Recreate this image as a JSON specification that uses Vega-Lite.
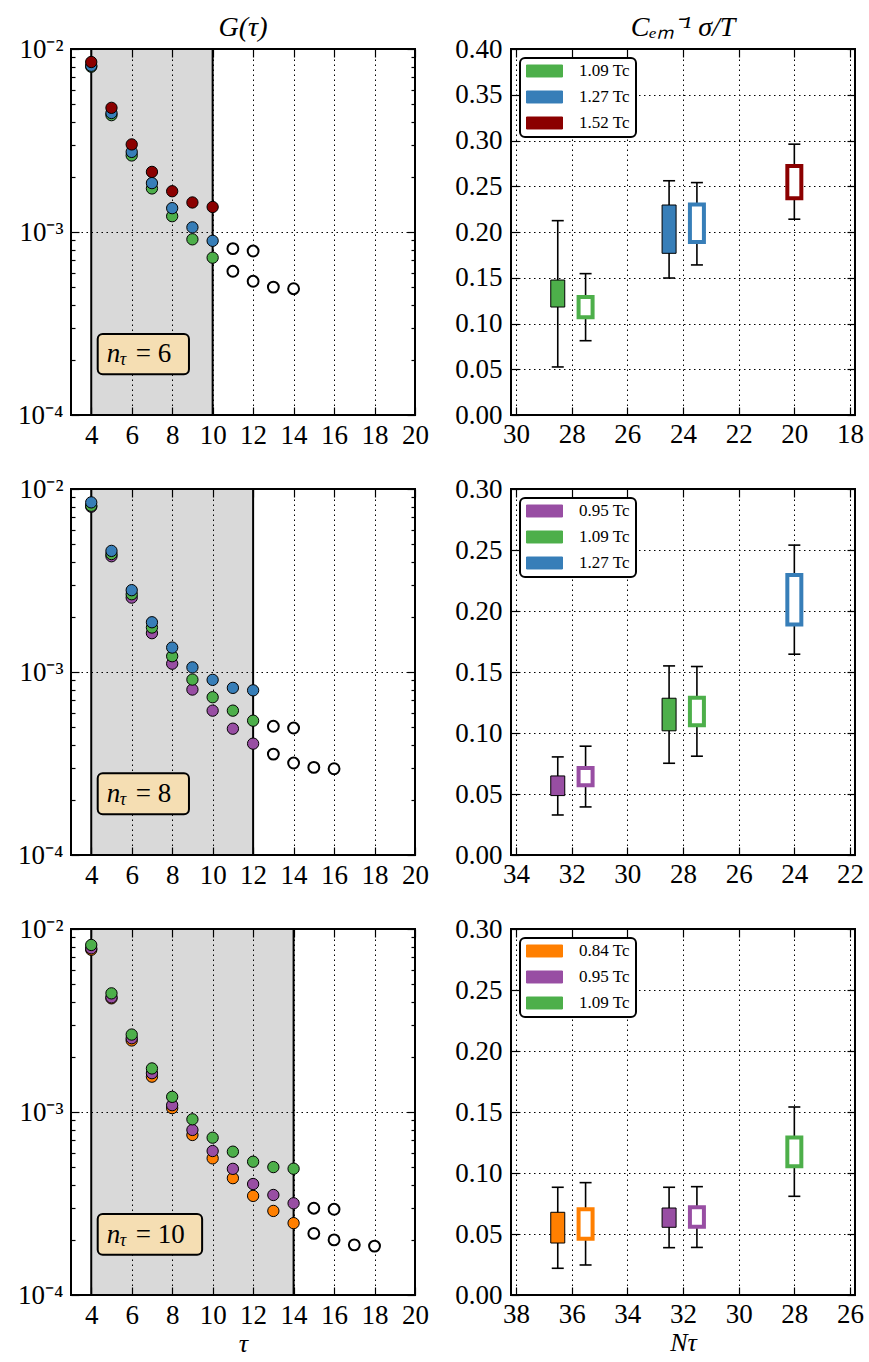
{
  "$schema": "https://vega.github.io/schema/vega-lite/v6.json",
  "background": "white",
  "padding": {"left": 16, "top": 13, "right": 0, "bottom": 0},
  "columns": 2,
  "spacing": {"row": 74, "column": 96},
  "bounds": "flush",
  "datasets": {
    "bands": [
      {"nt": 6, "lo": 4, "hi": 10},
      {"nt": 8, "lo": 4, "hi": 12},
      {"nt": 10, "lo": 4, "hi": 14}
    ],
    "G": [
      {"nt": 6, "T": "1.09 Tc", "tau": 4, "g": 0.0080, "open": false},
      {"nt": 6, "T": "1.09 Tc", "tau": 5, "g": 0.00435, "open": false},
      {"nt": 6, "T": "1.09 Tc", "tau": 6, "g": 0.00262, "open": false},
      {"nt": 6, "T": "1.09 Tc", "tau": 7, "g": 0.00173, "open": false},
      {"nt": 6, "T": "1.09 Tc", "tau": 8, "g": 0.00122, "open": false},
      {"nt": 6, "T": "1.09 Tc", "tau": 9, "g": 0.000912, "open": false},
      {"nt": 6, "T": "1.09 Tc", "tau": 10, "g": 0.000724, "open": false},
      {"nt": 6, "T": "1.27 Tc", "tau": 4, "g": 0.0081, "open": false},
      {"nt": 6, "T": "1.27 Tc", "tau": 5, "g": 0.00447, "open": false},
      {"nt": 6, "T": "1.27 Tc", "tau": 6, "g": 0.00274, "open": false},
      {"nt": 6, "T": "1.27 Tc", "tau": 7, "g": 0.00185, "open": false},
      {"nt": 6, "T": "1.27 Tc", "tau": 8, "g": 0.00135, "open": false},
      {"nt": 6, "T": "1.27 Tc", "tau": 9, "g": 0.00106, "open": false},
      {"nt": 6, "T": "1.27 Tc", "tau": 10, "g": 0.000895, "open": false},
      {"nt": 6, "T": "1.52 Tc", "tau": 4, "g": 0.00849, "open": false},
      {"nt": 6, "T": "1.52 Tc", "tau": 5, "g": 0.00477, "open": false},
      {"nt": 6, "T": "1.52 Tc", "tau": 6, "g": 0.00301, "open": false},
      {"nt": 6, "T": "1.52 Tc", "tau": 7, "g": 0.00213, "open": false},
      {"nt": 6, "T": "1.52 Tc", "tau": 8, "g": 0.00167, "open": false},
      {"nt": 6, "T": "1.52 Tc", "tau": 9, "g": 0.00145, "open": false},
      {"nt": 6, "T": "1.52 Tc", "tau": 10, "g": 0.00137, "open": false},
      {"nt": 6, "T": null, "tau": 11, "g": 0.000811, "open": true},
      {"nt": 6, "T": null, "tau": 11, "g": 0.00061, "open": true},
      {"nt": 6, "T": null, "tau": 12, "g": 0.000787, "open": true},
      {"nt": 6, "T": null, "tau": 12, "g": 0.000538, "open": true},
      {"nt": 6, "T": null, "tau": 13, "g": 0.0005, "open": true},
      {"nt": 6, "T": null, "tau": 14, "g": 0.00049, "open": true},

      {"nt": 8, "T": "0.95 Tc", "tau": 4, "g": 0.0080, "open": false},
      {"nt": 8, "T": "0.95 Tc", "tau": 5, "g": 0.00429, "open": false},
      {"nt": 8, "T": "0.95 Tc", "tau": 6, "g": 0.00255, "open": false},
      {"nt": 8, "T": "0.95 Tc", "tau": 7, "g": 0.00163, "open": false},
      {"nt": 8, "T": "0.95 Tc", "tau": 8, "g": 0.00111, "open": false},
      {"nt": 8, "T": "0.95 Tc", "tau": 9, "g": 0.000802, "open": false},
      {"nt": 8, "T": "0.95 Tc", "tau": 10, "g": 0.000615, "open": false},
      {"nt": 8, "T": "0.95 Tc", "tau": 11, "g": 0.00049, "open": false},
      {"nt": 8, "T": "0.95 Tc", "tau": 12, "g": 0.000406, "open": false},
      {"nt": 8, "T": "1.09 Tc", "tau": 4, "g": 0.0081, "open": false},
      {"nt": 8, "T": "1.09 Tc", "tau": 5, "g": 0.00441, "open": false},
      {"nt": 8, "T": "1.09 Tc", "tau": 6, "g": 0.00266, "open": false},
      {"nt": 8, "T": "1.09 Tc", "tau": 7, "g": 0.00175, "open": false},
      {"nt": 8, "T": "1.09 Tc", "tau": 8, "g": 0.00122, "open": false},
      {"nt": 8, "T": "1.09 Tc", "tau": 9, "g": 0.000909, "open": false},
      {"nt": 8, "T": "1.09 Tc", "tau": 10, "g": 0.000728, "open": false},
      {"nt": 8, "T": "1.09 Tc", "tau": 11, "g": 0.000615, "open": false},
      {"nt": 8, "T": "1.09 Tc", "tau": 12, "g": 0.000542, "open": false},
      {"nt": 8, "T": "1.27 Tc", "tau": 4, "g": 0.00845, "open": false},
      {"nt": 8, "T": "1.27 Tc", "tau": 5, "g": 0.00459, "open": false},
      {"nt": 8, "T": "1.27 Tc", "tau": 6, "g": 0.0028, "open": false},
      {"nt": 8, "T": "1.27 Tc", "tau": 7, "g": 0.00187, "open": false},
      {"nt": 8, "T": "1.27 Tc", "tau": 8, "g": 0.00136, "open": false},
      {"nt": 8, "T": "1.27 Tc", "tau": 9, "g": 0.00106, "open": false},
      {"nt": 8, "T": "1.27 Tc", "tau": 10, "g": 0.000906, "open": false},
      {"nt": 8, "T": "1.27 Tc", "tau": 11, "g": 0.000819, "open": false},
      {"nt": 8, "T": "1.27 Tc", "tau": 12, "g": 0.000794, "open": false},
      {"nt": 8, "T": null, "tau": 13, "g": 0.000505, "open": true},
      {"nt": 8, "T": null, "tau": 13, "g": 0.000356, "open": true},
      {"nt": 8, "T": null, "tau": 14, "g": 0.000494, "open": true},
      {"nt": 8, "T": null, "tau": 14, "g": 0.000318, "open": true},
      {"nt": 8, "T": null, "tau": 15, "g": 0.000301, "open": true},
      {"nt": 8, "T": null, "tau": 16, "g": 0.000296, "open": true},

      {"nt": 10, "T": "0.84 Tc", "tau": 4, "g": 0.0077, "open": false},
      {"nt": 10, "T": "0.84 Tc", "tau": 5, "g": 0.00418, "open": false},
      {"nt": 10, "T": "0.84 Tc", "tau": 6, "g": 0.00246, "open": false},
      {"nt": 10, "T": "0.84 Tc", "tau": 7, "g": 0.00156, "open": false},
      {"nt": 10, "T": "0.84 Tc", "tau": 8, "g": 0.00105, "open": false},
      {"nt": 10, "T": "0.84 Tc", "tau": 9, "g": 0.000749, "open": false},
      {"nt": 10, "T": "0.84 Tc", "tau": 10, "g": 0.000558, "open": false},
      {"nt": 10, "T": "0.84 Tc", "tau": 11, "g": 0.000435, "open": false},
      {"nt": 10, "T": "0.84 Tc", "tau": 12, "g": 0.000348, "open": false},
      {"nt": 10, "T": "0.84 Tc", "tau": 13, "g": 0.000288, "open": false},
      {"nt": 10, "T": "0.84 Tc", "tau": 14, "g": 0.000247, "open": false},
      {"nt": 10, "T": "0.95 Tc", "tau": 4, "g": 0.00784, "open": false},
      {"nt": 10, "T": "0.95 Tc", "tau": 5, "g": 0.00423, "open": false},
      {"nt": 10, "T": "0.95 Tc", "tau": 6, "g": 0.00253, "open": false},
      {"nt": 10, "T": "0.95 Tc", "tau": 7, "g": 0.00163, "open": false},
      {"nt": 10, "T": "0.95 Tc", "tau": 8, "g": 0.00109, "open": false},
      {"nt": 10, "T": "0.95 Tc", "tau": 9, "g": 0.000798, "open": false},
      {"nt": 10, "T": "0.95 Tc", "tau": 10, "g": 0.000612, "open": false},
      {"nt": 10, "T": "0.95 Tc", "tau": 11, "g": 0.000489, "open": false},
      {"nt": 10, "T": "0.95 Tc", "tau": 12, "g": 0.000404, "open": false},
      {"nt": 10, "T": "0.95 Tc", "tau": 13, "g": 0.000352, "open": false},
      {"nt": 10, "T": "0.95 Tc", "tau": 14, "g": 0.000317, "open": false},
      {"nt": 10, "T": "1.09 Tc", "tau": 4, "g": 0.00818, "open": false},
      {"nt": 10, "T": "1.09 Tc", "tau": 5, "g": 0.00445, "open": false},
      {"nt": 10, "T": "1.09 Tc", "tau": 6, "g": 0.00265, "open": false},
      {"nt": 10, "T": "1.09 Tc", "tau": 7, "g": 0.00173, "open": false},
      {"nt": 10, "T": "1.09 Tc", "tau": 8, "g": 0.00121, "open": false},
      {"nt": 10, "T": "1.09 Tc", "tau": 9, "g": 0.000912, "open": false},
      {"nt": 10, "T": "1.09 Tc", "tau": 10, "g": 0.000724, "open": false},
      {"nt": 10, "T": "1.09 Tc", "tau": 11, "g": 0.000607, "open": false},
      {"nt": 10, "T": "1.09 Tc", "tau": 12, "g": 0.000535, "open": false},
      {"nt": 10, "T": "1.09 Tc", "tau": 13, "g": 0.0005, "open": false},
      {"nt": 10, "T": "1.09 Tc", "tau": 14, "g": 0.00049, "open": false},
      {"nt": 10, "T": null, "tau": 15, "g": 0.000298, "open": true},
      {"nt": 10, "T": null, "tau": 15, "g": 0.000217, "open": true},
      {"nt": 10, "T": null, "tau": 16, "g": 0.000294, "open": true},
      {"nt": 10, "T": null, "tau": 16, "g": 0.0002, "open": true},
      {"nt": 10, "T": null, "tau": 17, "g": 0.000188, "open": true},
      {"nt": 10, "T": null, "tau": 18, "g": 0.000185, "open": true}
    ],
    "S": [
      {"nt": 6, "T": "1.09 Tc", "N": 28.5, "open": false, "blo": 0.118, "bhi": 0.1475, "wlo": 0.0525, "whi": 0.2124},
      {"nt": 6, "T": "1.09 Tc", "N": 27.5, "open": true, "blo": 0.1067, "bhi": 0.129, "wlo": 0.0812, "whi": 0.1545},
      {"nt": 6, "T": "1.27 Tc", "N": 24.5, "open": false, "blo": 0.1767, "bhi": 0.2295, "wlo": 0.1497, "whi": 0.256},
      {"nt": 6, "T": "1.27 Tc", "N": 23.5, "open": true, "blo": 0.189, "bhi": 0.23, "wlo": 0.164, "whi": 0.254},
      {"nt": 6, "T": "1.52 Tc", "N": 20, "open": true, "blo": 0.237, "bhi": 0.272, "wlo": 0.214, "whi": 0.296},
      {"nt": 8, "T": "0.95 Tc", "N": 32.5, "open": false, "blo": 0.0487, "bhi": 0.0648, "wlo": 0.0328, "whi": 0.0804},
      {"nt": 8, "T": "0.95 Tc", "N": 31.5, "open": true, "blo": 0.0572, "bhi": 0.0714, "wlo": 0.0394, "whi": 0.0892},
      {"nt": 8, "T": "1.09 Tc", "N": 28.5, "open": false, "blo": 0.1018, "bhi": 0.1285, "wlo": 0.0752, "whi": 0.155},
      {"nt": 8, "T": "1.09 Tc", "N": 27.5, "open": true, "blo": 0.1064, "bhi": 0.1288, "wlo": 0.081, "whi": 0.1545},
      {"nt": 8, "T": "1.27 Tc", "N": 24, "open": true, "blo": 0.189, "bhi": 0.2295, "wlo": 0.1646, "whi": 0.254},
      {"nt": 10, "T": "0.84 Tc", "N": 36.5, "open": false, "blo": 0.0426, "bhi": 0.0678, "wlo": 0.0219, "whi": 0.0883},
      {"nt": 10, "T": "0.84 Tc", "N": 35.5, "open": true, "blo": 0.0462, "bhi": 0.0702, "wlo": 0.0246, "whi": 0.0921},
      {"nt": 10, "T": "0.95 Tc", "N": 32.5, "open": false, "blo": 0.0555, "bhi": 0.0713, "wlo": 0.0388, "whi": 0.0883},
      {"nt": 10, "T": "0.95 Tc", "N": 31.5, "open": true, "blo": 0.056, "bhi": 0.0719, "wlo": 0.039, "whi": 0.0888},
      {"nt": 10, "T": "1.09 Tc", "N": 28, "open": true, "blo": 0.1055, "bhi": 0.1292, "wlo": 0.0809, "whi": 0.1541}
    ]
  },
  "concat": [
    {
      "width": 344, "height": 366,
      "title": {"text": "G(τ)"},
      "resolve": {"axis": {"x": "independent", "y": "independent"}},
      "layer": [
        {"data": {"name": "bands"}, "transform": [{"filter": "datum.nt == 6"}],
         "mark": {"type": "rect", "color": "black", "opacity": 0.15},
         "encoding": {"x": {"field": "lo", "type": "quantitative", "scale": {"domain": [3, 20], "nice": false, "zero": false}, "axis": null}, "x2": {"field": "hi"}}},
        {"data": {"name": "bands"}, "transform": [{"filter": "datum.nt == 6"}],
         "mark": {"type": "rule", "color": "black", "strokeWidth": 2},
         "encoding": {"x": {"field": "lo", "type": "quantitative", "scale": {"domain": [3, 20], "nice": false, "zero": false}, "axis": null}}},
        {"data": {"name": "bands"}, "transform": [{"filter": "datum.nt == 6"}],
         "mark": {"type": "rule", "color": "black", "strokeWidth": 2},
         "encoding": {"x": {"field": "hi", "type": "quantitative", "scale": {"domain": [3, 20], "nice": false, "zero": false}, "axis": null}}},
        {"data": {"name": "G"}, "transform": [{"filter": "datum.nt == 6 && !datum.open"}],
         "mark": {"type": "circle", "size": 128, "opacity": 1, "stroke": "black", "strokeWidth": 1},
         "encoding": {
           "x": {"field": "tau", "type": "quantitative", "scale": {"domain": [3, 20], "nice": false, "zero": false},
                 "axis": {"orient": "bottom", "values": [4, 6, 8, 10, 12, 14, 16, 18, 20], "tickSize": -8, "labelPadding": 15, "labelFlush": false, "labelOverlap": false, "grid": true, "title": null}},
           "y": {"field": "g", "type": "quantitative", "scale": {"type": "log", "domain": [0.0001, 0.01], "nice": false},
                 "axis": {"orient": "left", "values": [0.0001, 0.0002, 0.0003, 0.0004, 0.0005, 0.0006, 0.0007, 0.0008, 0.0009, 0.001, 0.002, 0.003, 0.004, 0.005, 0.006, 0.007, 0.008, 0.009, 0.01],
                          "labelExpr": "datum.value == 0.01 ? '10⁻²' : datum.value == 0.001 ? '10⁻³' : datum.value == 0.0001 ? '10⁻⁴' : ''",
                          "tickSize": {"condition": {"test": "datum.value == 0.01 || datum.value == 0.001 || datum.value == 0.0001", "value": -8}, "value": -4},
                          "gridOpacity": {"condition": {"test": "datum.value == 0.001", "value": 1}, "value": 0},
                          "labelPadding": 16, "labelOverlap": false, "grid": true, "title": null}},
           "fill": {"field": "T", "type": "nominal", "scale": {"domain": ["1.09 Tc", "1.27 Tc", "1.52 Tc"], "range": ["#4daf4a", "#377eb8", "#8b0000"]}, "legend": null}
         }},
        {"data": {"name": "G"}, "transform": [{"filter": "datum.nt == 6 && datum.open"}],
         "mark": {"type": "circle", "size": 118, "opacity": 1, "fill": "white", "stroke": "black", "strokeWidth": 2},
         "encoding": {
           "x": {"field": "tau", "type": "quantitative", "scale": {"domain": [3, 20], "nice": false, "zero": false}, "axis": null},
           "y": {"field": "g", "type": "quantitative", "scale": {"type": "log", "domain": [0.0001, 0.01], "nice": false}, "axis": null}
         }},
        {"data": {"name": "bands"}, "transform": [{"filter": "datum.nt == 6"}],
         "mark": {"type": "rect", "fill": "#f5deb3", "stroke": "black", "strokeWidth": 2, "cornerRadius": 5},
         "encoding": {
           "x": {"datum": 4.32, "type": "quantitative", "scale": {"domain": [3, 20], "nice": false, "zero": false}, "axis": null}, "x2": {"datum": 8.83},
           "y": {"datum": 0.000277, "type": "quantitative", "scale": {"type": "log", "domain": [0.0001, 0.01], "nice": false}, "axis": null}, "y2": {"datum": 0.000167}
         }},
        {"data": {"name": "bands"}, "transform": [{"filter": "datum.nt == 6"}],
         "mark": {"type": "text", "text": "n", "font": "Liberation Serif", "fontStyle": "italic", "fontSize": 27, "align": "left", "baseline": "middle", "dx": 9, "color": "black"},
         "encoding": {"x": {"datum": 4.32, "type": "quantitative", "scale": {"domain": [3, 20], "nice": false, "zero": false}, "axis": null}, "y": {"datum": 0.000215, "type": "quantitative", "scale": {"type": "log", "domain": [0.0001, 0.01], "nice": false}, "axis": null}}},
        {"data": {"name": "bands"}, "transform": [{"filter": "datum.nt == 6"}],
         "mark": {"type": "text", "text": "τ", "font": "Liberation Serif", "fontStyle": "italic", "fontSize": 18, "align": "left", "baseline": "middle", "dx": 22, "dy": 6, "color": "black"},
         "encoding": {"x": {"datum": 4.32, "type": "quantitative", "scale": {"domain": [3, 20], "nice": false, "zero": false}, "axis": null}, "y": {"datum": 0.000215, "type": "quantitative", "scale": {"type": "log", "domain": [0.0001, 0.01], "nice": false}, "axis": null}}},
        {"data": {"name": "bands"}, "transform": [{"filter": "datum.nt == 6"}],
         "mark": {"type": "text", "text": "= 6", "font": "Liberation Serif", "fontSize": 27, "align": "left", "baseline": "middle", "dx": 38, "color": "black"},
         "encoding": {"x": {"datum": 4.32, "type": "quantitative", "scale": {"domain": [3, 20], "nice": false, "zero": false}, "axis": null}, "y": {"datum": 0.000215, "type": "quantitative", "scale": {"type": "log", "domain": [0.0001, 0.01], "nice": false}, "axis": null}}},
        {"data": {"name": "G"}, "transform": [{"filter": "datum.nt == 6"}],
         "mark": {"type": "point", "opacity": 0},
         "encoding": {
           "x": {"field": "tau", "type": "quantitative", "scale": {"domain": [3, 20], "nice": false, "zero": false},
                 "axis": {"orient": "top", "values": [4, 6, 8, 10, 12, 14, 16, 18, 20], "tickSize": -8, "labels": false, "grid": false, "title": null, "minExtent": 0, "maxExtent": 0}},
           "y": {"field": "g", "type": "quantitative", "scale": {"type": "log", "domain": [0.0001, 0.01], "nice": false},
                 "axis": {"orient": "right", "values": [0.0001, 0.0002, 0.0003, 0.0004, 0.0005, 0.0006, 0.0007, 0.0008, 0.0009, 0.001, 0.002, 0.003, 0.004, 0.005, 0.006, 0.007, 0.008, 0.009, 0.01],
                          "tickSize": {"condition": {"test": "datum.value == 0.01 || datum.value == 0.001 || datum.value == 0.0001", "value": -8}, "value": -4},
                          "labels": false, "grid": false, "title": null, "minExtent": 0, "maxExtent": 0}}
         }}
      ]
    },
    {
      "width": 344, "height": 366,
      "title": {"text": "Cₑₘ⁻¹ σ/T"},
      "data": {"name": "S"},
      "transform": [{"filter": "datum.nt == 6"}],
      "resolve": {"axis": {"x": "independent", "y": "independent"}},
      "layer": [
        {"mark": {"type": "rule", "color": "black", "strokeWidth": 1.6},
         "encoding": {
           "x": {"field": "N", "type": "quantitative", "scale": {"domain": [18, 30], "reverse": true, "nice": false, "zero": false},
                 "axis": {"orient": "bottom", "values": [30, 28, 26, 24, 22, 20, 18], "tickSize": -8, "labelPadding": 14, "labelFlush": false, "labelOverlap": false, "grid": true, "title": null}},
           "y": {"field": "wlo", "type": "quantitative", "scale": {"domain": [0, 0.4], "nice": false},
                 "axis": {"orient": "left", "values": [0, 0.05, 0.1, 0.15, 0.2, 0.25, 0.3, 0.35, 0.4], "format": ".2f", "tickSize": -8, "labelPadding": 17, "labelOverlap": false, "grid": true, "title": null}},
           "y2": {"field": "whi"}
         }},
        {"mark": {"type": "tick", "orient": "horizontal", "size": 12, "thickness": 1.6, "color": "black", "opacity": 1},
         "encoding": {"x": {"field": "N", "type": "quantitative", "scale": {"domain": [18, 30], "reverse": true, "nice": false, "zero": false}, "axis": null}, "y": {"field": "wlo", "type": "quantitative", "scale": {"domain": [0, 0.4], "nice": false}, "axis": null}}},
        {"mark": {"type": "tick", "orient": "horizontal", "size": 12, "thickness": 1.6, "color": "black", "opacity": 1},
         "encoding": {"x": {"field": "N", "type": "quantitative", "scale": {"domain": [18, 30], "reverse": true, "nice": false, "zero": false}, "axis": null}, "y": {"field": "whi", "type": "quantitative", "scale": {"domain": [0, 0.4], "nice": false}, "axis": null}}},
        {"transform": [{"filter": "!datum.open"}],
         "mark": {"type": "bar", "orient": "vertical", "width": 14, "stroke": "black", "strokeWidth": 1},
         "encoding": {
           "x": {"field": "N", "type": "quantitative", "scale": {"domain": [18, 30], "reverse": true, "nice": false, "zero": false}, "axis": null},
           "y": {"field": "blo", "type": "quantitative", "scale": {"domain": [0, 0.4], "nice": false}, "axis": null}, "y2": {"field": "bhi"},
           "fill": {"field": "T", "type": "nominal", "scale": {"domain": ["1.09 Tc", "1.27 Tc", "1.52 Tc"], "range": ["#4daf4a", "#377eb8", "#8b0000"]}, "legend": {"title": null}}
         }},
        {"transform": [{"filter": "datum.open"}],
         "mark": {"type": "bar", "orient": "vertical", "width": 14, "fill": "white", "strokeWidth": 4},
         "encoding": {
           "x": {"field": "N", "type": "quantitative", "scale": {"domain": [18, 30], "reverse": true, "nice": false, "zero": false}, "axis": null},
           "y": {"field": "blo", "type": "quantitative", "scale": {"domain": [0, 0.4], "nice": false}, "axis": null}, "y2": {"field": "bhi"},
           "stroke": {"field": "T", "type": "nominal", "scale": {"domain": ["1.09 Tc", "1.27 Tc", "1.52 Tc"], "range": ["#4daf4a", "#377eb8", "#8b0000"]}, "legend": null}
         }},
        {"mark": {"type": "point", "opacity": 0},
         "encoding": {
           "x": {"field": "N", "type": "quantitative", "scale": {"domain": [18, 30], "reverse": true, "nice": false, "zero": false},
                 "axis": {"orient": "top", "values": [30, 28, 26, 24, 22, 20, 18], "tickSize": -8, "labels": false, "grid": false, "title": null, "minExtent": 0, "maxExtent": 0}},
           "y": {"field": "wlo", "type": "quantitative", "scale": {"domain": [0, 0.4], "nice": false},
                 "axis": {"orient": "right", "values": [0, 0.05, 0.1, 0.15, 0.2, 0.25, 0.3, 0.35, 0.4], "tickSize": -8, "labels": false, "grid": false, "title": null, "minExtent": 0, "maxExtent": 0}}
         }}
      ]
    },
    {
      "width": 344, "height": 366,
      "resolve": {"axis": {"x": "independent", "y": "independent"}},
      "layer": [
        {"data": {"name": "bands"}, "transform": [{"filter": "datum.nt == 8"}],
         "mark": {"type": "rect", "color": "black", "opacity": 0.15},
         "encoding": {"x": {"field": "lo", "type": "quantitative", "scale": {"domain": [3, 20], "nice": false, "zero": false}, "axis": null}, "x2": {"field": "hi"}}},
        {"data": {"name": "bands"}, "transform": [{"filter": "datum.nt == 8"}],
         "mark": {"type": "rule", "color": "black", "strokeWidth": 2},
         "encoding": {"x": {"field": "lo", "type": "quantitative", "scale": {"domain": [3, 20], "nice": false, "zero": false}, "axis": null}}},
        {"data": {"name": "bands"}, "transform": [{"filter": "datum.nt == 8"}],
         "mark": {"type": "rule", "color": "black", "strokeWidth": 2},
         "encoding": {"x": {"field": "hi", "type": "quantitative", "scale": {"domain": [3, 20], "nice": false, "zero": false}, "axis": null}}},
        {"data": {"name": "G"}, "transform": [{"filter": "datum.nt == 8 && !datum.open"}],
         "mark": {"type": "circle", "size": 128, "opacity": 1, "stroke": "black", "strokeWidth": 1},
         "encoding": {
           "x": {"field": "tau", "type": "quantitative", "scale": {"domain": [3, 20], "nice": false, "zero": false},
                 "axis": {"orient": "bottom", "values": [4, 6, 8, 10, 12, 14, 16, 18, 20], "tickSize": -8, "labelPadding": 15, "labelFlush": false, "labelOverlap": false, "grid": true, "title": null}},
           "y": {"field": "g", "type": "quantitative", "scale": {"type": "log", "domain": [0.0001, 0.01], "nice": false},
                 "axis": {"orient": "left", "values": [0.0001, 0.0002, 0.0003, 0.0004, 0.0005, 0.0006, 0.0007, 0.0008, 0.0009, 0.001, 0.002, 0.003, 0.004, 0.005, 0.006, 0.007, 0.008, 0.009, 0.01],
                          "labelExpr": "datum.value == 0.01 ? '10⁻²' : datum.value == 0.001 ? '10⁻³' : datum.value == 0.0001 ? '10⁻⁴' : ''",
                          "tickSize": {"condition": {"test": "datum.value == 0.01 || datum.value == 0.001 || datum.value == 0.0001", "value": -8}, "value": -4},
                          "gridOpacity": {"condition": {"test": "datum.value == 0.001", "value": 1}, "value": 0},
                          "labelPadding": 16, "labelOverlap": false, "grid": true, "title": null}},
           "fill": {"field": "T", "type": "nominal", "scale": {"domain": ["0.95 Tc", "1.09 Tc", "1.27 Tc"], "range": ["#984ea3", "#4daf4a", "#377eb8"]}, "legend": null}
         }},
        {"data": {"name": "G"}, "transform": [{"filter": "datum.nt == 8 && datum.open"}],
         "mark": {"type": "circle", "size": 118, "opacity": 1, "fill": "white", "stroke": "black", "strokeWidth": 2},
         "encoding": {
           "x": {"field": "tau", "type": "quantitative", "scale": {"domain": [3, 20], "nice": false, "zero": false}, "axis": null},
           "y": {"field": "g", "type": "quantitative", "scale": {"type": "log", "domain": [0.0001, 0.01], "nice": false}, "axis": null}
         }},
        {"data": {"name": "bands"}, "transform": [{"filter": "datum.nt == 8"}],
         "mark": {"type": "rect", "fill": "#f5deb3", "stroke": "black", "strokeWidth": 2, "cornerRadius": 5},
         "encoding": {
           "x": {"datum": 4.32, "type": "quantitative", "scale": {"domain": [3, 20], "nice": false, "zero": false}, "axis": null}, "x2": {"datum": 8.83},
           "y": {"datum": 0.00028, "type": "quantitative", "scale": {"type": "log", "domain": [0.0001, 0.01], "nice": false}, "axis": null}, "y2": {"datum": 0.000167}
         }},
        {"data": {"name": "bands"}, "transform": [{"filter": "datum.nt == 8"}],
         "mark": {"type": "text", "text": "n", "font": "Liberation Serif", "fontStyle": "italic", "fontSize": 27, "align": "left", "baseline": "middle", "dx": 9, "color": "black"},
         "encoding": {"x": {"datum": 4.32, "type": "quantitative", "scale": {"domain": [3, 20], "nice": false, "zero": false}, "axis": null}, "y": {"datum": 0.000216, "type": "quantitative", "scale": {"type": "log", "domain": [0.0001, 0.01], "nice": false}, "axis": null}}},
        {"data": {"name": "bands"}, "transform": [{"filter": "datum.nt == 8"}],
         "mark": {"type": "text", "text": "τ", "font": "Liberation Serif", "fontStyle": "italic", "fontSize": 18, "align": "left", "baseline": "middle", "dx": 22, "dy": 6, "color": "black"},
         "encoding": {"x": {"datum": 4.32, "type": "quantitative", "scale": {"domain": [3, 20], "nice": false, "zero": false}, "axis": null}, "y": {"datum": 0.000216, "type": "quantitative", "scale": {"type": "log", "domain": [0.0001, 0.01], "nice": false}, "axis": null}}},
        {"data": {"name": "bands"}, "transform": [{"filter": "datum.nt == 8"}],
         "mark": {"type": "text", "text": "= 8", "font": "Liberation Serif", "fontSize": 27, "align": "left", "baseline": "middle", "dx": 38, "color": "black"},
         "encoding": {"x": {"datum": 4.32, "type": "quantitative", "scale": {"domain": [3, 20], "nice": false, "zero": false}, "axis": null}, "y": {"datum": 0.000216, "type": "quantitative", "scale": {"type": "log", "domain": [0.0001, 0.01], "nice": false}, "axis": null}}},
        {"data": {"name": "G"}, "transform": [{"filter": "datum.nt == 8"}],
         "mark": {"type": "point", "opacity": 0},
         "encoding": {
           "x": {"field": "tau", "type": "quantitative", "scale": {"domain": [3, 20], "nice": false, "zero": false},
                 "axis": {"orient": "top", "values": [4, 6, 8, 10, 12, 14, 16, 18, 20], "tickSize": -8, "labels": false, "grid": false, "title": null, "minExtent": 0, "maxExtent": 0}},
           "y": {"field": "g", "type": "quantitative", "scale": {"type": "log", "domain": [0.0001, 0.01], "nice": false},
                 "axis": {"orient": "right", "values": [0.0001, 0.0002, 0.0003, 0.0004, 0.0005, 0.0006, 0.0007, 0.0008, 0.0009, 0.001, 0.002, 0.003, 0.004, 0.005, 0.006, 0.007, 0.008, 0.009, 0.01],
                          "tickSize": {"condition": {"test": "datum.value == 0.01 || datum.value == 0.001 || datum.value == 0.0001", "value": -8}, "value": -4},
                          "labels": false, "grid": false, "title": null, "minExtent": 0, "maxExtent": 0}}
         }}
      ]
    },
    {
      "width": 344, "height": 366,
      "data": {"name": "S"},
      "transform": [{"filter": "datum.nt == 8"}],
      "resolve": {"axis": {"x": "independent", "y": "independent"}},
      "layer": [
        {"mark": {"type": "rule", "color": "black", "strokeWidth": 1.6},
         "encoding": {
           "x": {"field": "N", "type": "quantitative", "scale": {"domain": [22, 34], "reverse": true, "nice": false, "zero": false},
                 "axis": {"orient": "bottom", "values": [34, 32, 30, 28, 26, 24, 22], "tickSize": -8, "labelPadding": 14, "labelFlush": false, "labelOverlap": false, "grid": true, "title": null}},
           "y": {"field": "wlo", "type": "quantitative", "scale": {"domain": [0, 0.3], "nice": false},
                 "axis": {"orient": "left", "values": [0, 0.05, 0.1, 0.15, 0.2, 0.25, 0.3], "format": ".2f", "tickSize": -8, "labelPadding": 17, "labelOverlap": false, "grid": true, "title": null}},
           "y2": {"field": "whi"}
         }},
        {"mark": {"type": "tick", "orient": "horizontal", "size": 12, "thickness": 1.6, "color": "black", "opacity": 1},
         "encoding": {"x": {"field": "N", "type": "quantitative", "scale": {"domain": [22, 34], "reverse": true, "nice": false, "zero": false}, "axis": null}, "y": {"field": "wlo", "type": "quantitative", "scale": {"domain": [0, 0.3], "nice": false}, "axis": null}}},
        {"mark": {"type": "tick", "orient": "horizontal", "size": 12, "thickness": 1.6, "color": "black", "opacity": 1},
         "encoding": {"x": {"field": "N", "type": "quantitative", "scale": {"domain": [22, 34], "reverse": true, "nice": false, "zero": false}, "axis": null}, "y": {"field": "whi", "type": "quantitative", "scale": {"domain": [0, 0.3], "nice": false}, "axis": null}}},
        {"transform": [{"filter": "!datum.open"}],
         "mark": {"type": "bar", "orient": "vertical", "width": 14, "stroke": "black", "strokeWidth": 1},
         "encoding": {
           "x": {"field": "N", "type": "quantitative", "scale": {"domain": [22, 34], "reverse": true, "nice": false, "zero": false}, "axis": null},
           "y": {"field": "blo", "type": "quantitative", "scale": {"domain": [0, 0.3], "nice": false}, "axis": null}, "y2": {"field": "bhi"},
           "fill": {"field": "T", "type": "nominal", "scale": {"domain": ["0.95 Tc", "1.09 Tc", "1.27 Tc"], "range": ["#984ea3", "#4daf4a", "#377eb8"]}, "legend": {"title": null}}
         }},
        {"transform": [{"filter": "datum.open"}],
         "mark": {"type": "bar", "orient": "vertical", "width": 14, "fill": "white", "strokeWidth": 4},
         "encoding": {
           "x": {"field": "N", "type": "quantitative", "scale": {"domain": [22, 34], "reverse": true, "nice": false, "zero": false}, "axis": null},
           "y": {"field": "blo", "type": "quantitative", "scale": {"domain": [0, 0.3], "nice": false}, "axis": null}, "y2": {"field": "bhi"},
           "stroke": {"field": "T", "type": "nominal", "scale": {"domain": ["0.95 Tc", "1.09 Tc", "1.27 Tc"], "range": ["#984ea3", "#4daf4a", "#377eb8"]}, "legend": null}
         }},
        {"mark": {"type": "point", "opacity": 0},
         "encoding": {
           "x": {"field": "N", "type": "quantitative", "scale": {"domain": [22, 34], "reverse": true, "nice": false, "zero": false},
                 "axis": {"orient": "top", "values": [34, 32, 30, 28, 26, 24, 22], "tickSize": -8, "labels": false, "grid": false, "title": null, "minExtent": 0, "maxExtent": 0}},
           "y": {"field": "wlo", "type": "quantitative", "scale": {"domain": [0, 0.3], "nice": false},
                 "axis": {"orient": "right", "values": [0, 0.05, 0.1, 0.15, 0.2, 0.25, 0.3], "tickSize": -8, "labels": false, "grid": false, "title": null, "minExtent": 0, "maxExtent": 0}}
         }}
      ]
    },
    {
      "width": 344, "height": 366,
      "resolve": {"axis": {"x": "independent", "y": "independent"}},
      "layer": [
        {"data": {"name": "bands"}, "transform": [{"filter": "datum.nt == 10"}],
         "mark": {"type": "rect", "color": "black", "opacity": 0.15},
         "encoding": {"x": {"field": "lo", "type": "quantitative", "scale": {"domain": [3, 20], "nice": false, "zero": false}, "axis": null}, "x2": {"field": "hi"}}},
        {"data": {"name": "bands"}, "transform": [{"filter": "datum.nt == 10"}],
         "mark": {"type": "rule", "color": "black", "strokeWidth": 2},
         "encoding": {"x": {"field": "lo", "type": "quantitative", "scale": {"domain": [3, 20], "nice": false, "zero": false}, "axis": null}}},
        {"data": {"name": "bands"}, "transform": [{"filter": "datum.nt == 10"}],
         "mark": {"type": "rule", "color": "black", "strokeWidth": 2},
         "encoding": {"x": {"field": "hi", "type": "quantitative", "scale": {"domain": [3, 20], "nice": false, "zero": false}, "axis": null}}},
        {"data": {"name": "G"}, "transform": [{"filter": "datum.nt == 10 && !datum.open"}],
         "mark": {"type": "circle", "size": 128, "opacity": 1, "stroke": "black", "strokeWidth": 1},
         "encoding": {
           "x": {"field": "tau", "type": "quantitative", "scale": {"domain": [3, 20], "nice": false, "zero": false},
                 "axis": {"orient": "bottom", "values": [4, 6, 8, 10, 12, 14, 16, 18, 20], "tickSize": -8, "labelPadding": 15, "labelFlush": false, "labelOverlap": false, "grid": true, "title": "τ", "titlePadding": 2}},
           "y": {"field": "g", "type": "quantitative", "scale": {"type": "log", "domain": [0.0001, 0.01], "nice": false},
                 "axis": {"orient": "left", "values": [0.0001, 0.0002, 0.0003, 0.0004, 0.0005, 0.0006, 0.0007, 0.0008, 0.0009, 0.001, 0.002, 0.003, 0.004, 0.005, 0.006, 0.007, 0.008, 0.009, 0.01],
                          "labelExpr": "datum.value == 0.01 ? '10⁻²' : datum.value == 0.001 ? '10⁻³' : datum.value == 0.0001 ? '10⁻⁴' : ''",
                          "tickSize": {"condition": {"test": "datum.value == 0.01 || datum.value == 0.001 || datum.value == 0.0001", "value": -8}, "value": -4},
                          "gridOpacity": {"condition": {"test": "datum.value == 0.001", "value": 1}, "value": 0},
                          "labelPadding": 16, "labelOverlap": false, "grid": true, "title": null}},
           "fill": {"field": "T", "type": "nominal", "scale": {"domain": ["0.84 Tc", "0.95 Tc", "1.09 Tc"], "range": ["#ff7f00", "#984ea3", "#4daf4a"]}, "legend": null}
         }},
        {"data": {"name": "G"}, "transform": [{"filter": "datum.nt == 10 && datum.open"}],
         "mark": {"type": "circle", "size": 118, "opacity": 1, "fill": "white", "stroke": "black", "strokeWidth": 2},
         "encoding": {
           "x": {"field": "tau", "type": "quantitative", "scale": {"domain": [3, 20], "nice": false, "zero": false}, "axis": null},
           "y": {"field": "g", "type": "quantitative", "scale": {"type": "log", "domain": [0.0001, 0.01], "nice": false}, "axis": null}
         }},
        {"data": {"name": "bands"}, "transform": [{"filter": "datum.nt == 10"}],
         "mark": {"type": "rect", "fill": "#f5deb3", "stroke": "black", "strokeWidth": 2, "cornerRadius": 5},
         "encoding": {
           "x": {"datum": 4.32, "type": "quantitative", "scale": {"domain": [3, 20], "nice": false, "zero": false}, "axis": null}, "x2": {"datum": 9.48},
           "y": {"datum": 0.000277, "type": "quantitative", "scale": {"type": "log", "domain": [0.0001, 0.01], "nice": false}, "axis": null}, "y2": {"datum": 0.000166}
         }},
        {"data": {"name": "bands"}, "transform": [{"filter": "datum.nt == 10"}],
         "mark": {"type": "text", "text": "n", "font": "Liberation Serif", "fontStyle": "italic", "fontSize": 27, "align": "left", "baseline": "middle", "dx": 9, "color": "black"},
         "encoding": {"x": {"datum": 4.32, "type": "quantitative", "scale": {"domain": [3, 20], "nice": false, "zero": false}, "axis": null}, "y": {"datum": 0.000214, "type": "quantitative", "scale": {"type": "log", "domain": [0.0001, 0.01], "nice": false}, "axis": null}}},
        {"data": {"name": "bands"}, "transform": [{"filter": "datum.nt == 10"}],
         "mark": {"type": "text", "text": "τ", "font": "Liberation Serif", "fontStyle": "italic", "fontSize": 18, "align": "left", "baseline": "middle", "dx": 22, "dy": 6, "color": "black"},
         "encoding": {"x": {"datum": 4.32, "type": "quantitative", "scale": {"domain": [3, 20], "nice": false, "zero": false}, "axis": null}, "y": {"datum": 0.000214, "type": "quantitative", "scale": {"type": "log", "domain": [0.0001, 0.01], "nice": false}, "axis": null}}},
        {"data": {"name": "bands"}, "transform": [{"filter": "datum.nt == 10"}],
         "mark": {"type": "text", "text": "= 10", "font": "Liberation Serif", "fontSize": 27, "align": "left", "baseline": "middle", "dx": 38, "color": "black"},
         "encoding": {"x": {"datum": 4.32, "type": "quantitative", "scale": {"domain": [3, 20], "nice": false, "zero": false}, "axis": null}, "y": {"datum": 0.000214, "type": "quantitative", "scale": {"type": "log", "domain": [0.0001, 0.01], "nice": false}, "axis": null}}},
        {"data": {"name": "G"}, "transform": [{"filter": "datum.nt == 10"}],
         "mark": {"type": "point", "opacity": 0},
         "encoding": {
           "x": {"field": "tau", "type": "quantitative", "scale": {"domain": [3, 20], "nice": false, "zero": false},
                 "axis": {"orient": "top", "values": [4, 6, 8, 10, 12, 14, 16, 18, 20], "tickSize": -8, "labels": false, "grid": false, "title": null, "minExtent": 0, "maxExtent": 0}},
           "y": {"field": "g", "type": "quantitative", "scale": {"type": "log", "domain": [0.0001, 0.01], "nice": false},
                 "axis": {"orient": "right", "values": [0.0001, 0.0002, 0.0003, 0.0004, 0.0005, 0.0006, 0.0007, 0.0008, 0.0009, 0.001, 0.002, 0.003, 0.004, 0.005, 0.006, 0.007, 0.008, 0.009, 0.01],
                          "tickSize": {"condition": {"test": "datum.value == 0.01 || datum.value == 0.001 || datum.value == 0.0001", "value": -8}, "value": -4},
                          "labels": false, "grid": false, "title": null, "minExtent": 0, "maxExtent": 0}}
         }}
      ]
    },
    {
      "width": 344, "height": 366,
      "data": {"name": "S"},
      "transform": [{"filter": "datum.nt == 10"}],
      "resolve": {"axis": {"x": "independent", "y": "independent"}},
      "layer": [
        {"mark": {"type": "rule", "color": "black", "strokeWidth": 1.6},
         "encoding": {
           "x": {"field": "N", "type": "quantitative", "scale": {"domain": [26, 38], "reverse": true, "nice": false, "zero": false},
                 "axis": {"orient": "bottom", "values": [38, 36, 34, 32, 30, 28, 26], "tickSize": -8, "labelPadding": 14, "labelFlush": false, "labelOverlap": false, "grid": true, "title": "Nτ", "titlePadding": 2}},
           "y": {"field": "wlo", "type": "quantitative", "scale": {"domain": [0, 0.3], "nice": false},
                 "axis": {"orient": "left", "values": [0, 0.05, 0.1, 0.15, 0.2, 0.25, 0.3], "format": ".2f", "tickSize": -8, "labelPadding": 17, "labelOverlap": false, "grid": true, "title": null}},
           "y2": {"field": "whi"}
         }},
        {"mark": {"type": "tick", "orient": "horizontal", "size": 12, "thickness": 1.6, "color": "black", "opacity": 1},
         "encoding": {"x": {"field": "N", "type": "quantitative", "scale": {"domain": [26, 38], "reverse": true, "nice": false, "zero": false}, "axis": null}, "y": {"field": "wlo", "type": "quantitative", "scale": {"domain": [0, 0.3], "nice": false}, "axis": null}}},
        {"mark": {"type": "tick", "orient": "horizontal", "size": 12, "thickness": 1.6, "color": "black", "opacity": 1},
         "encoding": {"x": {"field": "N", "type": "quantitative", "scale": {"domain": [26, 38], "reverse": true, "nice": false, "zero": false}, "axis": null}, "y": {"field": "whi", "type": "quantitative", "scale": {"domain": [0, 0.3], "nice": false}, "axis": null}}},
        {"transform": [{"filter": "!datum.open"}],
         "mark": {"type": "bar", "orient": "vertical", "width": 14, "stroke": "black", "strokeWidth": 1},
         "encoding": {
           "x": {"field": "N", "type": "quantitative", "scale": {"domain": [26, 38], "reverse": true, "nice": false, "zero": false}, "axis": null},
           "y": {"field": "blo", "type": "quantitative", "scale": {"domain": [0, 0.3], "nice": false}, "axis": null}, "y2": {"field": "bhi"},
           "fill": {"field": "T", "type": "nominal", "scale": {"domain": ["0.84 Tc", "0.95 Tc", "1.09 Tc"], "range": ["#ff7f00", "#984ea3", "#4daf4a"]}, "legend": {"title": null}}
         }},
        {"transform": [{"filter": "datum.open"}],
         "mark": {"type": "bar", "orient": "vertical", "width": 14, "fill": "white", "strokeWidth": 4},
         "encoding": {
           "x": {"field": "N", "type": "quantitative", "scale": {"domain": [26, 38], "reverse": true, "nice": false, "zero": false}, "axis": null},
           "y": {"field": "blo", "type": "quantitative", "scale": {"domain": [0, 0.3], "nice": false}, "axis": null}, "y2": {"field": "bhi"},
           "stroke": {"field": "T", "type": "nominal", "scale": {"domain": ["0.84 Tc", "0.95 Tc", "1.09 Tc"], "range": ["#ff7f00", "#984ea3", "#4daf4a"]}, "legend": null}
         }},
        {"mark": {"type": "point", "opacity": 0},
         "encoding": {
           "x": {"field": "N", "type": "quantitative", "scale": {"domain": [26, 38], "reverse": true, "nice": false, "zero": false},
                 "axis": {"orient": "top", "values": [38, 36, 34, 32, 30, 28, 26], "tickSize": -8, "labels": false, "grid": false, "title": null, "minExtent": 0, "maxExtent": 0}},
           "y": {"field": "wlo", "type": "quantitative", "scale": {"domain": [0, 0.3], "nice": false},
                 "axis": {"orient": "right", "values": [0, 0.05, 0.1, 0.15, 0.2, 0.25, 0.3], "tickSize": -8, "labels": false, "grid": false, "title": null, "minExtent": 0, "maxExtent": 0}}
         }}
      ]
    }
  ],
  "resolve": {
    "scale": {"fill": "independent", "stroke": "independent", "x": "independent", "y": "independent"},
    "legend": {"fill": "independent", "stroke": "independent"}
  },
  "config": {
    "font": "Liberation Serif",
    "view": {"stroke": "black", "strokeWidth": 2},
    "axis": {
      "domain": false,
      "labelFont": "Liberation Serif",
      "labelFontSize": 27,
      "labelColor": "black",
      "tickColor": "black",
      "tickWidth": 1.2,
      "gridColor": "black",
      "gridDash": [1.5, 3.5],
      "gridWidth": 1,
      "gridOpacity": 1,
      "titleFont": "Liberation Serif",
      "titleFontSize": 26,
      "titleFontWeight": "normal",
      "titleFontStyle": "italic",
      "titleColor": "black"
    },
    "title": {
      "font": "Liberation Serif",
      "fontSize": 28,
      "fontWeight": "normal",
      "fontStyle": "italic",
      "color": "black",
      "anchor": "middle",
      "frame": "group",
      "offset": -7
    },
    "legend": {
      "orient": "top-left",
      "offset": 9,
      "padding": 6,
      "strokeColor": "black",
      "strokeWidth": 2,
      "fillColor": "white",
      "cornerRadius": 5,
      "symbolType": "M-1,-0.333H1V0.333H-1Z",
      "symbolSize": 1296,
      "symbolStrokeColor": "black",
      "symbolStrokeWidth": 1,
      "symbolOpacity": 1,
      "clipHeight": 14,
      "labelFont": "Liberation Serif",
      "labelFontSize": 17,
      "labelColor": "black",
      "labelOffset": 16,
      "rowPadding": 9
    }
  }
}
